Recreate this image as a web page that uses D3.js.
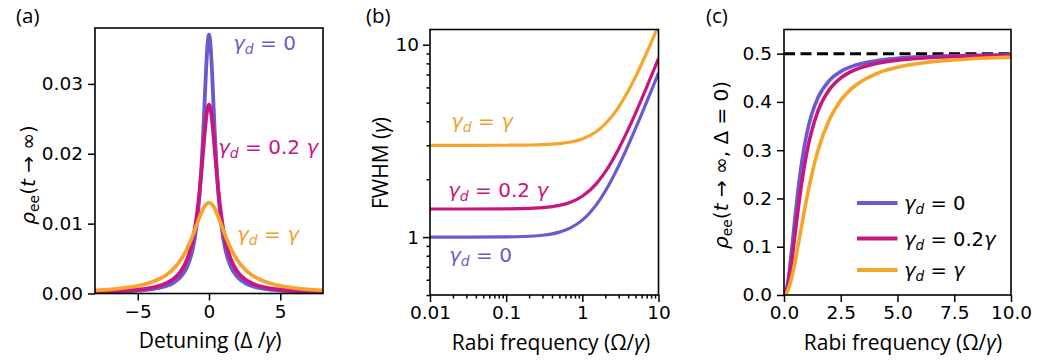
<!DOCTYPE html>
<html><head><meta charset="utf-8">
<script src="https://cdn.jsdelivr.net/npm/d3@7"></script>
<style>body{margin:0;background:#fff}svg{display:block}</style>
</head><body>
<svg id="fig" width="1038" height="363"></svg>
<script>
// dephasing cases and their colours
const dephasing = ["0", "0.2γ", "γ"];
const colors = ["#6a5acd", "#c8157f", "#f5a52a"];

// (a) steady-state lineshape vs detuning
const detuning = [-8,-6,-5,-4,-3,-2.5,-2,-1.5,-1.2,-1,-0.8,-0.6,-0.5,-0.4,-0.3,-0.2,-0.1,0,0.1,0.2,0.3,0.4,0.5,0.6,0.8,1,1.2,1.5,2,2.5,3,4,5,6,8];
const rhoA0  = [0.00016,0.00028,0.00040,0.00062,0.00108,0.00153,0.00234,0.00397,0.00585,0.00787,0.01099,0.01587,0.01923,0.02326,0.02778,0.03226,0.03571,0.03704,0.03571,0.03226,0.02778,0.02326,0.01923,0.01587,0.01099,0.00787,0.00585,0.00397,0.00234,0.00153,0.00108,0.00062,0.00040,0.00028,0.00016];
const rhoA02 = [0.00022,0.00038,0.00055,0.00085,0.00147,0.00207,0.00310,0.00506,0.00715,0.00922,0.01209,0.01595,0.01823,0.02065,0.02303,0.02509,0.02652,0.02703,0.02652,0.02509,0.02303,0.02065,0.01823,0.01595,0.01209,0.00922,0.00715,0.00506,0.00310,0.00207,0.00147,0.00085,0.00055,0.00038,0.00022];
const rhoA1  = [0.00045,0.00078,0.00110,0.00164,0.00265,0.00350,0.00475,0.00658,0.00800,0.00906,0.01017,0.01124,0.01172,0.01215,0.01250,0.01277,0.01293,0.01299,0.01293,0.01277,0.01250,0.01215,0.01172,0.01124,0.01017,0.00906,0.00800,0.00658,0.00475,0.00350,0.00265,0.00164,0.00110,0.00078,0.00045];
const ticksA_x = [-5, 0, 5];
const ticksA_y = [0, 0.01, 0.02, 0.03];

// (b) linewidth vs Rabi frequency (log-log)
const rabiB = [0.01,0.03,0.1,0.2,0.3,0.5,0.7,1,1.5,2,3,4,5,6,7,8,10];
const fwhm0  = [1.000,1.000,1.003,1.010,1.022,1.061,1.116,1.225,1.458,1.732,2.345,3.000,3.674,4.359,5.050,5.745,7.141];
const fwhm02 = [1.400,1.400,1.403,1.410,1.422,1.461,1.518,1.631,1.880,2.182,2.874,3.628,4.411,5.212,6.022,6.838,8.483];
const fwhm1  = [3.000,3.000,3.003,3.010,3.022,3.062,3.120,3.240,3.518,3.873,4.743,5.745,6.819,7.937,9.083,10.247,12.610];
const ticksB_x = [0.01, 0.1, 1, 10];
const ticksB_y = [1, 10];

// (c) resonant population vs Rabi frequency
const rabiC = [0,0.1,0.2,0.3,0.4,0.5,0.6,0.8,1,1.2,1.5,2,2.5,3,4,5,6,7,8,9,10];
const rhoC0  = [0,0.0098,0.0370,0.0763,0.1212,0.1667,0.2093,0.2807,0.3333,0.3711,0.4091,0.4444,0.4630,0.4737,0.4848,0.4902,0.4932,0.4949,0.4961,0.4969,0.4975];
const rhoC02 = [0,0.0070,0.0270,0.0570,0.0930,0.1316,0.1698,0.2388,0.2941,0.3364,0.3814,0.4255,0.4496,0.4639,0.4790,0.4864,0.4905,0.4930,0.4946,0.4957,0.4965];
const rhoC1  = [0,0.0033,0.0130,0.0283,0.0482,0.0714,0.0968,0.1495,0.2000,0.2449,0.3000,0.3636,0.4032,0.4286,0.4571,0.4717,0.4800,0.4851,0.4885,0.4909,0.4926];
const ticksC_x = [0, 2.5, 5, 7.5, 10];
const ticksC_y = [0, 0.1, 0.2, 0.3, 0.4, 0.5];
const saturation = 0.5;

const svg = d3.select("#fig");
const TICKFONT = "'DejaVu Sans', sans-serif";
const LABELFONT = "'Open Sans', 'Noto Sans', sans-serif";
const LABELSIZE = 21;

// text made of styled pieces: {t, it, sub}
function rich(g, x, y, parts, o) {
  const t = g.append("text").attr("x", x).attr("y", y)
    .attr("font-family", o.family).attr("font-size", o.size)
    .attr("fill", o.fill || "#000")
    .attr("text-anchor", o.anchor || "start");
  if (o.transform) t.attr("transform", o.transform);
  let shift = 0;
  parts.forEach(p => {
    const s = t.append("tspan").text(p.t);
    const target = p.sub ? o.size * 0.22 : 0;
    if (target !== shift) { s.attr("dy", target - shift); shift = target; }
    if (p.it) s.attr("font-style", "italic");
    if (p.sub) s.attr("font-size", o.size * 0.7);
  });
  return t;
}

function gammaLabel(value) {
  const parts = [{t: "γ", it: true}, {t: "d", it: true, sub: true}, {t: " = "}];
  if (value === "γ") parts.push({t: "γ", it: true});
  else if (value === "0.2 γ") { parts.push({t: "0.2 "}); parts.push({t: "γ", it: true}); }
  else if (value === "0.2γ") { parts.push({t: "0.2"}); parts.push({t: "γ", it: true}); }
  else parts.push({t: value});
  return parts;
}

function frame(g, box) {
  g.append("rect").attr("x", box.l).attr("y", box.t)
    .attr("width", box.r - box.l).attr("height", box.b - box.t)
    .attr("fill", "none").attr("stroke", "#000").attr("stroke-width", 1.6);
}

function styleAxis(ax) {
  ax.select(".domain").remove();
  ax.selectAll(".tick line").attr("stroke", "#000").attr("stroke-width", 1.5);
  ax.selectAll(".tick text").attr("font-family", TICKFONT).attr("font-size", 18.5).attr("fill", "#000");
}

function fmtMinus(v, f) { return f(v).replace("-", "−"); }

function panelLetter(x, s) {
  svg.append("text").attr("x", x).attr("y", 23).text(s)
    .attr("font-family", LABELFONT).attr("font-size", 20.5);
}

// ---------- panel (a) ----------
{
  const box = {l: 95, r: 323, t: 28, b: 293.5};
  const x = d3.scaleLinear().domain([-8, 8]).range([box.l, box.r]);
  const y = d3.scaleLinear().domain([0, 0.038]).range([box.b, box.t]);
  const g = svg.append("g");
  svg.append("clipPath").attr("id", "clipA").append("rect")
    .attr("x", box.l).attr("y", box.t).attr("width", box.r - box.l).attr("height", box.b - box.t);
  const line = d3.line().x((d, i) => x(detuning[i])).y(d => y(d)).curve(d3.curveMonotoneX);
  [rhoA0, rhoA02, rhoA1].forEach((s, k) => {
    g.append("path").attr("d", line(s)).attr("fill", "none").attr("stroke", colors[k])
      .attr("stroke-width", 3.8).attr("clip-path", "url(#clipA)").attr("stroke-linejoin", "round");
  });
  frame(g, box);
  const ax = g.append("g").attr("transform", `translate(0,${box.b})`)
    .call(d3.axisBottom(x).tickValues(ticksA_x).tickSize(7).tickPadding(4).tickFormat(v => fmtMinus(v, d3.format("d"))));
  styleAxis(ax);
  const ay = g.append("g").attr("transform", `translate(${box.l},0)`)
    .call(d3.axisLeft(y).tickValues(ticksA_y).tickSize(7).tickPadding(5).tickFormat(d3.format(".2f")));
  styleAxis(ay);
  rich(g, 210, 348, [{t: "Detuning (Δ /"}, {t: "γ", it: true}, {t: ")"}], {family: LABELFONT, size: LABELSIZE, anchor: "middle"});
  rich(g, 0, 0, [{t: "ρ", it: true}, {t: "ee", sub: true}, {t: "("}, {t: "t", it: true}, {t: " → ∞)"}],
    {family: TICKFONT, size: 20, anchor: "middle", transform: "translate(35,175) rotate(-90)"});
  rich(g, 233, 50, gammaLabel("0"), {family: TICKFONT, size: 20, fill: colors[0]});
  rich(g, 218, 154, gammaLabel("0.2 γ"), {family: TICKFONT, size: 20, fill: colors[1]});
  rich(g, 237, 241, gammaLabel("γ"), {family: TICKFONT, size: 20, fill: "#f0a02a"});
  panelLetter(16, "(a)");
}

// ---------- panel (b) ----------
{
  const box = {l: 430, r: 658.5, t: 29.5, b: 295};
  const x = d3.scaleLog().domain([0.01, 10]).range([box.l, box.r]);
  const y = d3.scaleLog().domain([0.5, 12]).range([box.b, box.t]);
  const g = svg.append("g");
  svg.append("clipPath").attr("id", "clipB").append("rect")
    .attr("x", box.l).attr("y", box.t).attr("width", box.r - box.l).attr("height", box.b - box.t);
  const line = d3.line().x((d, i) => x(rabiB[i])).y(d => y(d)).curve(d3.curveMonotoneX);
  [fwhm0, fwhm02, fwhm1].forEach((s, k) => {
    g.append("path").attr("d", line(s)).attr("fill", "none").attr("stroke", colors[k])
      .attr("stroke-width", 3.2).attr("clip-path", "url(#clipB)");
  });
  frame(g, box);
  const minorX = [];
  [0.01, 0.1, 1].forEach(d => { for (let m = 2; m <= 9; m++) minorX.push(d * m); });
  const minorY = [0.5,0.6,0.7,0.8,0.9,2,3,4,5,6,7,8,9];
  const mx = g.append("g").attr("transform", `translate(0,${box.b})`)
    .call(d3.axisBottom(x).tickValues(minorX).tickSize(3.5).tickFormat(""));
  styleAxis(mx);
  const my = g.append("g").attr("transform", `translate(${box.l},0)`)
    .call(d3.axisLeft(y).tickValues(minorY).tickSize(3.5).tickFormat(""));
  styleAxis(my);
  const ax = g.append("g").attr("transform", `translate(0,${box.b})`)
    .call(d3.axisBottom(x).tickValues(ticksB_x).tickSize(7).tickPadding(4).tickFormat(v => String(v)));
  styleAxis(ax);
  const ay = g.append("g").attr("transform", `translate(${box.l},0)`)
    .call(d3.axisLeft(y).tickValues(ticksB_y).tickSize(7).tickPadding(4).tickFormat(v => String(v)));
  styleAxis(ay);
  rich(g, 551, 350, [{t: "Rabi frequency (Ω/"}, {t: "γ", it: true}, {t: ")"}], {family: LABELFONT, size: LABELSIZE, anchor: "middle"});
  rich(g, 0, 0, [{t: "FWHM ("}, {t: "γ", it: true}, {t: ")"}],
    {family: LABELFONT, size: LABELSIZE, anchor: "middle", transform: "translate(388,163) rotate(-90)"});
  rich(g, 451, 128, gammaLabel("γ"), {family: TICKFONT, size: 20, fill: "#f0a02a"});
  rich(g, 448, 197, gammaLabel("0.2 γ"), {family: TICKFONT, size: 20, fill: colors[1]});
  rich(g, 449, 262, gammaLabel("0"), {family: TICKFONT, size: 20, fill: colors[0]});
  panelLetter(366, "(b)");
}

// ---------- panel (c) ----------
{
  const box = {l: 784, r: 1011, t: 29.5, b: 295};
  const x = d3.scaleLinear().domain([0, 10]).range([box.l, box.r]);
  const y = d3.scaleLinear().domain([0, 0.55]).range([box.b, box.t]);
  const g = svg.append("g");
  svg.append("clipPath").attr("id", "clipC").append("rect")
    .attr("x", box.l).attr("y", box.t).attr("width", box.r - box.l).attr("height", box.b - box.t);
  g.append("line").attr("x1", x(0)).attr("x2", x(10)).attr("y1", y(saturation)).attr("y2", y(saturation))
    .attr("stroke", "#000").attr("stroke-width", 3).attr("stroke-dasharray", "11,5.5");
  const line = d3.line().x((d, i) => x(rabiC[i])).y(d => y(d)).curve(d3.curveMonotoneX);
  [rhoC0, rhoC02, rhoC1].forEach((s, k) => {
    g.append("path").attr("d", line(s)).attr("fill", "none").attr("stroke", colors[k])
      .attr("stroke-width", 3.6).attr("clip-path", "url(#clipC)");
  });
  frame(g, box);
  const ax = g.append("g").attr("transform", `translate(0,${box.b})`)
    .call(d3.axisBottom(x).tickValues(ticksC_x).tickSize(7).tickPadding(4).tickFormat(d3.format(".1f")));
  styleAxis(ax);
  const ay = g.append("g").attr("transform", `translate(${box.l},0)`)
    .call(d3.axisLeft(y).tickValues(ticksC_y).tickSize(7).tickPadding(5).tickFormat(d3.format(".1f")));
  styleAxis(ay);
  rich(g, 903, 350, [{t: "Rabi frequency (Ω/"}, {t: "γ", it: true}, {t: ")"}], {family: LABELFONT, size: LABELSIZE, anchor: "middle"});
  rich(g, 0, 0, [{t: "ρ", it: true}, {t: "ee", sub: true}, {t: "("}, {t: "t", it: true}, {t: " → ∞, Δ = 0)"}],
    {family: TICKFONT, size: 20, anchor: "middle", transform: "translate(728,165) rotate(-90)"});
  // legend
  const legY = [203, 238.5, 270];
  const legText = ["0", "0.2γ", "γ"];
  legY.forEach((ly, k) => {
    g.append("line").attr("x1", 857).attr("x2", 897.5).attr("y1", ly).attr("y2", ly)
      .attr("stroke", colors[k]).attr("stroke-width", 3.8);
    rich(g, 904, ly + 7, gammaLabel(legText[k]), {family: TICKFONT, size: 19.5});
  });
  panelLetter(706, "(c)");
}
</script>
</body></html>
